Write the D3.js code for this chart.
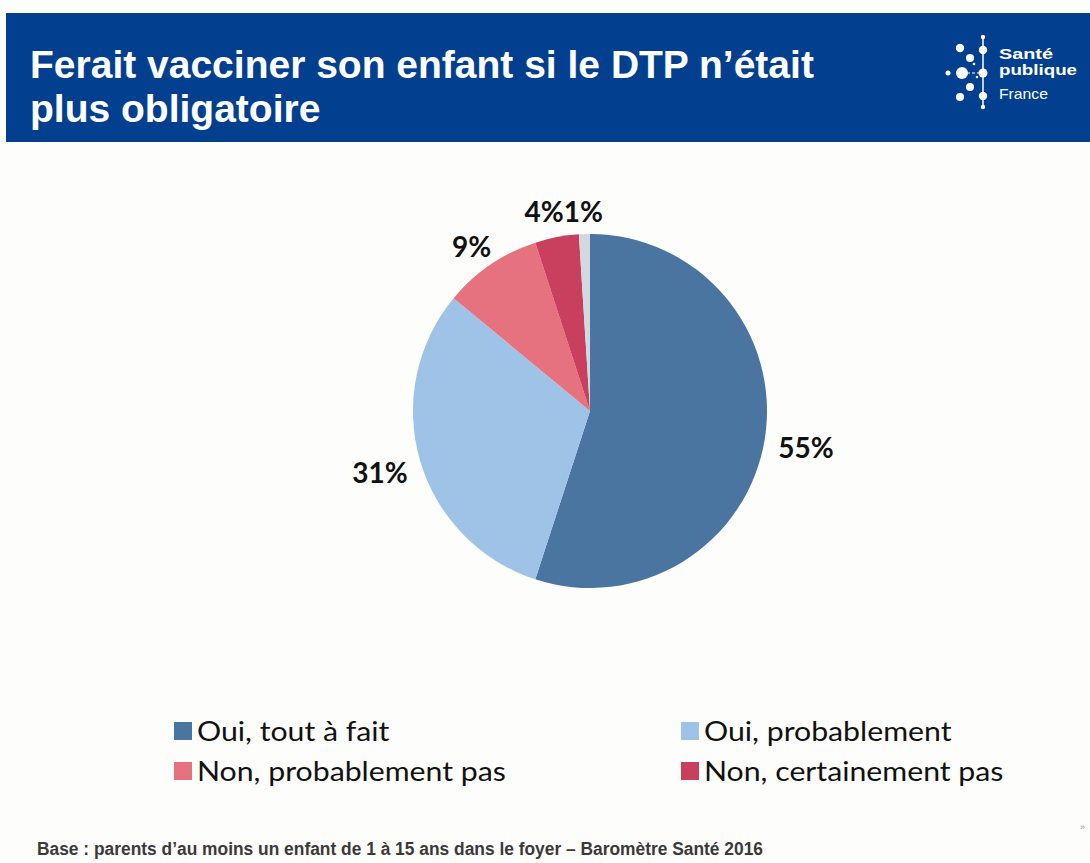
<!DOCTYPE html>
<html>
<head>
<meta charset="utf-8">
<script src="https://cdn.jsdelivr.net/npm/d3@7"></script>
<style>
  body { margin: 0; background: #fdfdfb; }
  svg { display: block; }
</style>
</head>
<body>
<script>
const WIDTH = 1090;
const HEIGHT = 863;

var titleLines = ['Ferait vacciner son enfant si le DTP n\u2019était', 'plus obligatoire'];
var categories = ['Oui, tout à fait', 'Oui, probablement', 'Non, probablement pas', 'Non, certainement pas', 'Ne sait pas'];
var values = [55, 31, 9, 4, 1];
var labels = ['55%', '31%', '9%', '4%', '1%'];
var colors = ['#4a75a0', '#9fc3e7', '#e5727e', '#c9405f', '#d3d8e0'];
var legendItems = [0, 1, 2, 3];
var logoWords = ['Santé', 'publique', 'France'];
var footnote = 'Base : parents d\u2019au moins un enfant de 1 à 15 ans dans le foyer \u2013 Baromètre Santé 2016';

var svg = d3.select('body').append('svg')
    .attr('width', WIDTH)
    .attr('height', HEIGHT);

// header band
svg.append('rect')
    .attr('x', 6).attr('y', 13)
    .attr('width', WIDTH - 6).attr('height', 129)
    .attr('fill', '#023f8f');

svg.selectAll('text.title')
    .data(titleLines)
    .enter()
    .append('text')
    .attr('class', 'title')
    .attr('x', 30)
    .attr('y', function(d, i) { return 78 + i * 44; })
    .attr('fill', '#fff')
    .style('font-family', '"Liberation Sans", Arial, sans-serif')
    .style('font-weight', 'bold')
    .style('font-size', '39px')
    .text(function(d) { return d; });

// logo
var logo = svg.append('g');
logo.append('line')
    .attr('x1', 983).attr('x2', 983).attr('y1', 37).attr('y2', 107)
    .attr('stroke', '#fff').attr('stroke-width', 1.5);
logo.append('line')
    .attr('x1', 962).attr('x2', 983).attr('y1', 73).attr('y2', 73)
    .attr('stroke', '#fff').attr('stroke-width', 1.2)
    .attr('stroke-dasharray', '3,2');
var dots = [[983, 37, 2.2], [983, 50, 4.2], [983, 73, 4.5], [983, 96, 4.2], [983, 107, 2.2],
            [960, 48, 4.2], [970, 58, 4], [974, 64, 1.3], [962, 73, 6], [948, 73, 2.5],
            [977, 77, 1.3], [970, 87, 4], [960, 97, 4]];
logo.selectAll('circle')
    .data(dots)
    .enter()
    .append('circle')
    .attr('cx', function(d) { return d[0]; })
    .attr('cy', function(d) { return d[1]; })
    .attr('r', function(d) { return d[2]; })
    .attr('fill', '#fff');
logo.selectAll('text')
    .data(logoWords)
    .enter()
    .append('text')
    .attr('x', 999)
    .attr('y', function(d, i) { return [59, 75, 99][i]; })
    .attr('fill', '#fff')
    .attr('textLength', function(d, i) { return [54, 78, 49][i]; })
    .attr('lengthAdjust', 'spacingAndGlyphs')
    .style('font-family', '"Liberation Sans", Arial, sans-serif')
    .style('font-weight', function(d, i) { return i < 2 ? 'bold' : 'normal'; })
    .style('font-size', '15px')
    .text(function(d) { return d; });

// pie
var cx = 590, cy = 411, radius = 177;
var pie = d3.pie().sort(null).value(function(d) { return d; });
var arc = d3.arc().innerRadius(0).outerRadius(radius);
var arcs = pie(values);

var chart = svg.append('g').attr('transform', 'translate(' + cx + ',' + cy + ')');
chart.selectAll('path')
    .data(arcs)
    .enter()
    .append('path')
    .attr('d', arc)
    .attr('fill', function(d, i) { return colors[i]; });

var labelSel = chart.selectAll('text.lbl')
    .data(arcs)
    .enter()
    .append('text')
    .attr('class', 'lbl')
    .attr('text-anchor', 'middle')
    .attr('dominant-baseline', 'central')
    .attr('fill', '#111')
    .style('font-family', 'Lato, "Open Sans", sans-serif')
    .style('font-weight', 'bold')
    .style('font-size', '28px')
    .text(function(d, i) { return labels[i]; });

// outside-end placement, then push overlapping labels apart
var pos = [];
labelSel.each(function(d) {
    var w = this.getComputedTextLength();
    var h = 26;
    var a = (d.startAngle + d.endAngle) / 2;
    var r = radius + 14;
    var x = Math.sin(a) * r + Math.sin(a) * w / 2;
    var y = -Math.cos(a) * r - Math.cos(a) * h / 2 + 4;
    pos.push({x: x, y: y, w: w, h: h});
});
for (var i = pos.length - 2; i >= 0; i--) {
    var a = pos[i], b = pos[i + 1];
    if (Math.abs(a.y - b.y) < a.h && a.x + a.w / 2 > b.x - b.w / 2 && a.x < b.x) {
        a.x = b.x - b.w / 2 - a.w / 2;
        a.y = b.y;
    }
}
labelSel
    .attr('x', function(d, i) { return pos[i].x; })
    .attr('y', function(d, i) { return pos[i].y; });

// legend
var legend = svg.selectAll('g.legend')
    .data(legendItems)
    .enter()
    .append('g')
    .attr('class', 'legend')
    .attr('transform', function(d, i) {
        return 'translate(' + (i % 2 === 0 ? 174 : 681) + ',' + (722 + Math.floor(i / 2) * 40) + ')';
    });
legend.append('rect')
    .attr('width', 18).attr('height', 18)
    .attr('fill', function(d) { return colors[d]; });
legend.append('text')
    .attr('transform', 'translate(23,19) scale(1.1,1)')
    .attr('fill', '#111')
    .style('font-family', 'Lato, "Open Sans", sans-serif')
    .style('font-size', '27.5px')
    .text(function(d) { return categories[d]; });

// footnote
svg.append('text')
    .attr('x', 37)
    .attr('y', 855)
    .attr('fill', '#3a3a3a')
    .attr('textLength', 726)
    .attr('lengthAdjust', 'spacingAndGlyphs')
    .style('font-family', '"Liberation Sans", Arial, sans-serif')
    .style('font-weight', 'bold')
    .style('font-size', '18px')
    .text(footnote);

svg.append('text')
    .attr('x', 1080)
    .attr('y', 830)
    .attr('fill', '#999')
    .style('font-family', '"Liberation Sans", Arial, sans-serif')
    .style('font-size', '9px')
    .text('\u00bb');
</script>
</body>
</html>
